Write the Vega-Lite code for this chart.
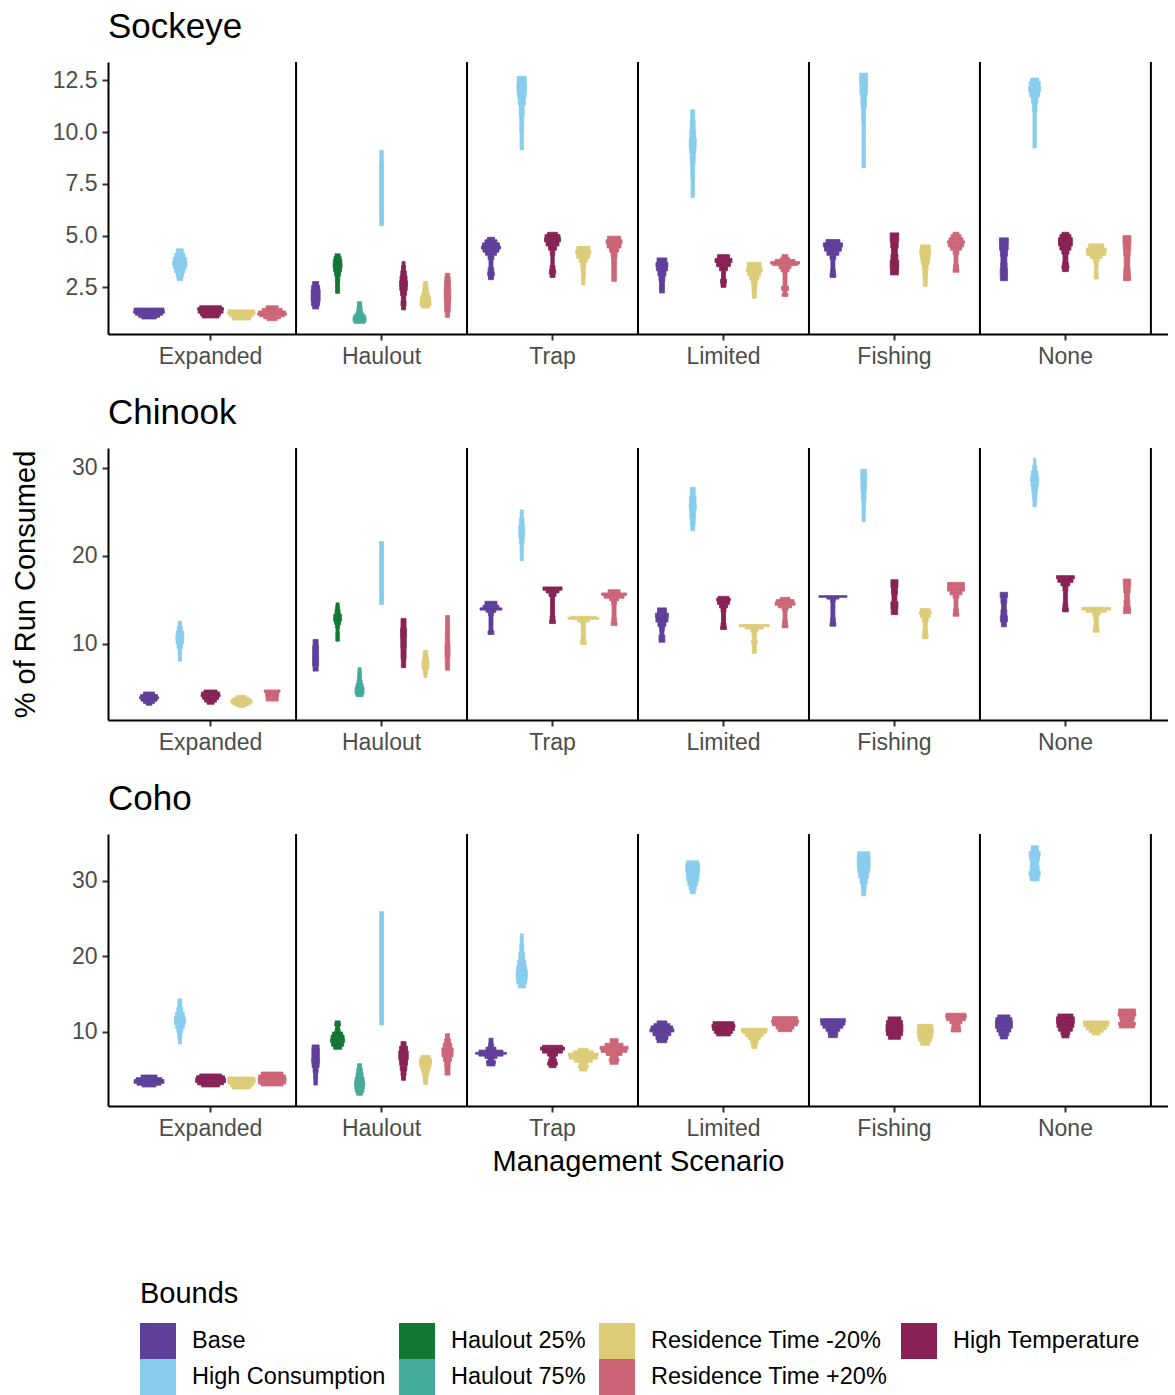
{
"$schema": "https://vega.github.io/schema/vega-lite/v6.json",
"padding": {"left": 11, "top": 10, "right": 0, "bottom": 0},
"spacing": 28,
"datasets": {
"scen": [{"sc":"Expanded"},{"sc":"Haulout"},{"sc":"Trap"},{"sc":"Limited"},{"sc":"Fishing"},{"sc":"None"}],
"vio": [
{"sp":"Sockeye","sc":"Expanded","b":"Base","e":[0.97,1.05,1.15,1.25,1.38,1.5],"w":[0.47,0.68,0.88,1.0,0.97]},
{"sp":"Sockeye","sc":"Expanded","b":"High Consumption","e":[2.82,3.0,3.2,3.4,3.55,3.75,3.95,4.15,4.36],"w":[0.18,0.24,0.33,0.42,0.47,0.43,0.33,0.22]},
{"sp":"Sockeye","sc":"Expanded","b":"High Temperature","e":[1.02,1.12,1.25,1.4,1.52,1.61],"w":[0.55,0.65,0.81,0.84,0.71]},
{"sp":"Sockeye","sc":"Expanded","b":"Residence Time -20%","e":[0.92,1.0,1.1,1.2,1.3,1.41],"w":[0.58,0.62,0.78,0.9,0.87]},
{"sp":"Sockeye","sc":"Expanded","b":"Residence Time +20%","e":[0.89,0.98,1.08,1.16,1.26,1.36,1.48,1.61],"w":[0.32,0.55,0.81,0.94,0.88,0.65,0.39]},
{"sp":"Sockeye","sc":"Haulout","b":"Base","e":[1.455,1.6,1.8,2.0,2.2,2.4,2.6,2.78],"w":[0.27,0.36,0.41,0.41,0.41,0.36,0.27]},
{"sp":"Sockeye","sc":"Haulout","b":"Haulout 25%","e":[2.21,2.5,2.8,3.05,3.25,3.45,3.65,3.85,4.0,4.12],"w":[0.18,0.18,0.2,0.27,0.36,0.41,0.39,0.32,0.23]},
{"sp":"Sockeye","sc":"Haulout","b":"Haulout 75%","e":[0.76,0.85,0.95,1.05,1.15,1.25,1.4,1.6,1.81],"w":[0.5,0.59,0.59,0.55,0.41,0.27,0.23,0.18]},
{"sp":"Sockeye","sc":"Haulout","b":"High Consumption","e":[5.49,6.5,7.5,8.5,9.11],"w":[0.18,0.18,0.18,0.16]},
{"sp":"Sockeye","sc":"Haulout","b":"High Temperature","e":[1.41,1.6,1.85,2.1,2.35,2.55,2.8,3.05,3.3,3.55,3.74],"w":[0.18,0.23,0.2,0.27,0.34,0.36,0.32,0.25,0.18,0.14]},
{"sp":"Sockeye","sc":"Haulout","b":"Residence Time -20%","e":[1.5,1.6,1.75,1.9,2.05,2.2,2.4,2.6,2.78],"w":[0.36,0.5,0.5,0.45,0.36,0.27,0.23,0.2]},
{"sp":"Sockeye","sc":"Haulout","b":"Residence Time +20%","e":[1.05,1.3,1.6,1.9,2.2,2.5,2.8,3.0,3.18],"w":[0.2,0.25,0.27,0.3,0.3,0.27,0.25,0.2]},
{"sp":"Sockeye","sc":"Trap","b":"Base","e":[2.87,3.05,3.25,3.45,3.65,3.85,4.05,4.2,4.35,4.5,4.65,4.8,4.92],"w":[0.16,0.21,0.18,0.13,0.13,0.19,0.36,0.52,0.62,0.55,0.39,0.23]},
{"sp":"Sockeye","sc":"Trap","b":"High Consumption","e":[9.15,10.0,10.8,11.3,11.7,12.0,12.3,12.69],"w":[0.11,0.13,0.16,0.23,0.29,0.32,0.3]},
{"sp":"Sockeye","sc":"Trap","b":"High Temperature","e":[2.98,3.15,3.35,3.55,3.8,4.05,4.3,4.5,4.7,4.9,5.05,5.16],"w":[0.16,0.21,0.16,0.11,0.11,0.15,0.26,0.42,0.52,0.49,0.32]},
{"sp":"Sockeye","sc":"Trap","b":"Residence Time -20%","e":[2.62,3.0,3.4,3.7,3.9,4.1,4.3,4.48],"w":[0.11,0.13,0.16,0.26,0.42,0.49,0.42]},
{"sp":"Sockeye","sc":"Trap","b":"Residence Time +20%","e":[2.79,3.2,3.6,3.95,4.2,4.4,4.6,4.8,4.97],"w":[0.15,0.15,0.16,0.19,0.29,0.45,0.52,0.42]},
{"sp":"Sockeye","sc":"Limited","b":"Base","e":[2.23,2.5,2.8,3.05,3.3,3.5,3.7,3.92],"w":[0.16,0.16,0.19,0.26,0.36,0.39,0.32]},
{"sp":"Sockeye","sc":"Limited","b":"High Consumption","e":[6.85,7.8,8.5,9.0,9.3,9.7,10.1,10.6,11.08],"w":[0.11,0.13,0.16,0.21,0.23,0.19,0.16,0.13]},
{"sp":"Sockeye","sc":"Limited","b":"High Temperature","e":[2.5,2.7,2.9,3.1,3.3,3.5,3.7,3.9,4.08],"w":[0.16,0.19,0.13,0.13,0.26,0.45,0.55,0.39]},
{"sp":"Sockeye","sc":"Limited","b":"Residence Time -20%","e":[1.97,2.3,2.6,2.85,3.05,3.25,3.45,3.71],"w":[0.13,0.15,0.19,0.29,0.42,0.52,0.45]},
{"sp":"Sockeye","sc":"Limited","b":"Residence Time +20%","e":[2.06,2.2,2.35,2.55,2.75,3.0,3.25,3.4,3.55,3.62,3.75,3.85,3.95,4.08],"w":[0.19,0.13,0.23,0.13,0.13,0.13,0.26,0.39,0.81,0.94,0.65,0.29,0.19]},
{"sp":"Sockeye","sc":"Fishing","b":"Base","e":[2.98,3.15,3.35,3.6,3.85,4.05,4.25,4.45,4.65,4.81],"w":[0.19,0.16,0.13,0.13,0.19,0.39,0.55,0.62,0.45]},
{"sp":"Sockeye","sc":"Fishing","b":"High Consumption","e":[8.28,9.5,10.5,11.2,11.8,12.3,12.85],"w":[0.11,0.11,0.13,0.18,0.24,0.26]},
{"sp":"Sockeye","sc":"Fishing","b":"High Temperature","e":[3.1,3.4,3.8,4.1,4.4,4.7,5.13],"w":[0.26,0.28,0.23,0.19,0.24,0.28]},
{"sp":"Sockeye","sc":"Fishing","b":"Residence Time -20%","e":[2.55,3.0,3.35,3.6,3.85,4.1,4.35,4.55],"w":[0.13,0.15,0.19,0.26,0.32,0.36,0.32]},
{"sp":"Sockeye","sc":"Fishing","b":"Residence Time +20%","e":[3.23,3.4,3.6,3.85,4.1,4.3,4.45,4.6,4.75,4.9,5.05,5.16],"w":[0.19,0.16,0.13,0.13,0.19,0.36,0.49,0.55,0.45,0.32,0.19]},
{"sp":"Sockeye","sc":"None","b":"Base","e":[2.82,3.1,3.4,3.7,4.0,4.3,4.6,4.89],"w":[0.23,0.24,0.21,0.19,0.23,0.28,0.29]},
{"sp":"Sockeye","sc":"None","b":"High Consumption","e":[9.24,10.2,11.0,11.4,11.7,11.95,12.2,12.45,12.61],"w":[0.11,0.11,0.15,0.21,0.32,0.39,0.36,0.26]},
{"sp":"Sockeye","sc":"None","b":"High Temperature","e":[3.26,3.4,3.55,3.7,3.9,4.1,4.3,4.5,4.7,4.9,5.05,5.16],"w":[0.19,0.23,0.19,0.16,0.16,0.23,0.36,0.45,0.45,0.36,0.23]},
{"sp":"Sockeye","sc":"None","b":"Residence Time -20%","e":[2.9,3.2,3.5,3.75,3.9,4.05,4.2,4.4,4.6],"w":[0.13,0.11,0.13,0.19,0.39,0.62,0.65,0.49]},
{"sp":"Sockeye","sc":"None","b":"Residence Time +20%","e":[2.82,3.1,3.4,3.7,4.0,4.3,4.6,5.0],"w":[0.23,0.21,0.18,0.18,0.21,0.24,0.26]},
{"sp":"Chinook","sc":"Expanded","b":"Base","e":[3.04,3.25,3.5,3.75,4.0,4.25,4.54],"w":[0.19,0.36,0.52,0.62,0.55,0.36]},
{"sp":"Chinook","sc":"Expanded","b":"High Consumption","e":[8.05,8.8,9.5,10.0,10.5,11.0,11.5,12.0,12.58],"w":[0.1,0.11,0.18,0.24,0.26,0.23,0.16,0.11]},
{"sp":"Chinook","sc":"Expanded","b":"High Temperature","e":[3.15,3.4,3.7,4.0,4.3,4.55,4.77],"w":[0.23,0.39,0.52,0.62,0.58,0.42]},
{"sp":"Chinook","sc":"Expanded","b":"Residence Time -20%","e":[2.77,2.95,3.15,3.35,3.55,3.75,3.95,4.17],"w":[0.23,0.45,0.62,0.71,0.65,0.49,0.29]},
{"sp":"Chinook","sc":"Expanded","b":"Residence Time +20%","e":[3.52,3.7,3.95,4.2,4.45,4.6,4.77],"w":[0.39,0.39,0.41,0.42,0.49,0.52]},
{"sp":"Chinook","sc":"Haulout","b":"Base","e":[6.92,7.5,8.3,9.1,9.8,10.51],"w":[0.23,0.27,0.27,0.27,0.23]},
{"sp":"Chinook","sc":"Haulout","b":"Haulout 25%","e":[10.32,10.8,11.3,11.8,12.2,12.6,13.0,13.4,13.9,14.3,14.67],"w":[0.16,0.16,0.14,0.18,0.27,0.36,0.34,0.23,0.18,0.14]},
{"sp":"Chinook","sc":"Haulout","b":"Haulout 75%","e":[4.02,4.3,4.7,5.1,5.5,5.9,6.4,6.9,7.3],"w":[0.32,0.41,0.41,0.32,0.23,0.18,0.16,0.14]},
{"sp":"Chinook","sc":"Haulout","b":"High Consumption","e":[14.47,16.5,18.5,20.5,21.64],"w":[0.18,0.18,0.18,0.18]},
{"sp":"Chinook","sc":"Haulout","b":"High Temperature","e":[7.3,8.3,9.5,10.7,11.8,12.89],"w":[0.2,0.23,0.25,0.27,0.23]},
{"sp":"Chinook","sc":"Haulout","b":"Residence Time -20%","e":[6.17,6.6,7.1,7.6,8.1,8.6,9.26],"w":[0.14,0.2,0.3,0.32,0.25,0.2]},
{"sp":"Chinook","sc":"Haulout","b":"Residence Time +20%","e":[7.03,8.5,10.0,11.5,13.23],"w":[0.2,0.23,0.2,0.18]},
{"sp":"Chinook","sc":"Trap","b":"Base","e":[11.08,11.5,12.0,12.6,13.2,13.6,13.85,14.1,14.4,14.85],"w":[0.19,0.13,0.13,0.13,0.16,0.32,0.71,0.52,0.39]},
{"sp":"Chinook","sc":"Trap","b":"High Consumption","e":[19.46,20.5,21.4,22.1,22.8,23.5,24.3,25.23],"w":[0.1,0.11,0.15,0.19,0.19,0.15,0.1]},
{"sp":"Chinook","sc":"Trap","b":"High Temperature","e":[12.32,12.7,13.2,14.0,14.8,15.4,15.8,16.1,16.48],"w":[0.19,0.16,0.13,0.13,0.13,0.23,0.42,0.62]},
{"sp":"Chinook","sc":"Trap","b":"Residence Time -20%","e":[9.94,10.3,11.0,11.7,12.2,12.5,12.8,13.0,13.15],"w":[0.19,0.15,0.13,0.13,0.16,0.39,1.0,0.84]},
{"sp":"Chinook","sc":"Trap","b":"Residence Time +20%","e":[12.1,12.5,13.0,13.8,14.5,14.9,15.2,15.5,15.8,16.17],"w":[0.19,0.15,0.13,0.13,0.16,0.29,0.65,0.81,0.39]},
{"sp":"Chinook","sc":"Limited","b":"Base","e":[10.2,10.6,11.0,11.5,12.0,12.5,13.0,13.5,14.1],"w":[0.19,0.19,0.13,0.16,0.26,0.39,0.42,0.29]},
{"sp":"Chinook","sc":"Limited","b":"High Consumption","e":[22.89,23.5,24.3,25.2,26.0,26.8,27.8],"w":[0.13,0.16,0.19,0.23,0.21,0.16]},
{"sp":"Chinook","sc":"Limited","b":"High Temperature","e":[11.64,12.0,12.4,13.0,13.6,14.1,14.5,14.9,15.2,15.41],"w":[0.19,0.16,0.13,0.13,0.16,0.26,0.39,0.45,0.36]},
{"sp":"Chinook","sc":"Limited","b":"Residence Time -20%","e":[8.93,9.5,10.0,10.4,10.9,11.4,11.7,11.95,12.21],"w":[0.13,0.13,0.19,0.13,0.15,0.23,0.58,0.97]},
{"sp":"Chinook","sc":"Limited","b":"Residence Time +20%","e":[11.83,12.2,12.7,13.3,13.8,14.1,14.4,14.75,15.05,15.3],"w":[0.19,0.16,0.13,0.13,0.19,0.42,0.65,0.58,0.32]},
{"sp":"Chinook","sc":"Fishing","b":"Base","e":[12.02,12.4,12.9,13.5,14.2,14.8,15.1,15.3,15.49],"w":[0.19,0.16,0.13,0.13,0.13,0.16,0.39,0.91]},
{"sp":"Chinook","sc":"Fishing","b":"High Consumption","e":[23.91,25.0,26.2,27.4,28.6,29.84],"w":[0.1,0.11,0.15,0.18,0.19]},
{"sp":"Chinook","sc":"Fishing","b":"High Temperature","e":[13.34,14.0,14.8,15.6,16.4,17.3],"w":[0.21,0.23,0.16,0.19,0.23]},
{"sp":"Chinook","sc":"Fishing","b":"Residence Time -20%","e":[10.62,11.0,11.5,12.0,12.5,13.0,13.4,13.7,14.02],"w":[0.19,0.16,0.13,0.13,0.19,0.32,0.39,0.32]},
{"sp":"Chinook","sc":"Fishing","b":"Residence Time +20%","e":[13.15,13.5,14.0,14.6,15.2,15.6,16.0,16.5,17.0],"w":[0.19,0.16,0.13,0.13,0.19,0.39,0.55,0.55]},
{"sp":"Chinook","sc":"None","b":"Base","e":[11.95,12.5,13.2,13.9,14.6,15.3,15.87],"w":[0.16,0.23,0.19,0.15,0.19,0.24]},
{"sp":"Chinook","sc":"None","b":"High Consumption","e":[25.6,26.4,27.2,27.9,28.5,29.1,29.7,30.3,31.09],"w":[0.11,0.15,0.19,0.24,0.26,0.21,0.13,0.08]},
{"sp":"Chinook","sc":"None","b":"High Temperature","e":[13.65,14.1,14.6,15.3,16.0,16.6,17.0,17.4,17.76],"w":[0.19,0.16,0.13,0.13,0.16,0.29,0.49,0.58]},
{"sp":"Chinook","sc":"None","b":"Residence Time -20%","e":[11.34,11.8,12.3,12.9,13.3,13.6,13.85,14.17],"w":[0.19,0.15,0.13,0.16,0.26,0.65,0.94]},
{"sp":"Chinook","sc":"None","b":"Residence Time +20%","e":[13.45,14.2,15.0,15.8,16.6,17.38],"w":[0.23,0.19,0.16,0.21,0.24]},
{"sp":"Coho","sc":"Expanded","b":"Base","e":[2.72,2.95,3.2,3.45,3.7,3.95,4.3],"w":[0.45,0.78,0.97,0.97,0.84,0.52]},
{"sp":"Coho","sc":"Expanded","b":"High Consumption","e":[8.41,9.2,9.9,10.5,11.0,11.5,12.0,12.6,13.3,14.37],"w":[0.1,0.13,0.19,0.29,0.36,0.36,0.29,0.19,0.13]},
{"sp":"Coho","sc":"Expanded","b":"High Temperature","e":[2.72,3.0,3.3,3.6,3.9,4.2,4.44],"w":[0.58,0.84,0.97,0.97,0.91,0.71]},
{"sp":"Coho","sc":"Expanded","b":"Residence Time -20%","e":[2.45,2.75,3.05,3.35,3.7,4.04],"w":[0.58,0.71,0.84,0.91,0.88]},
{"sp":"Coho","sc":"Expanded","b":"Residence Time +20%","e":[2.85,3.1,3.5,3.9,4.3,4.7],"w":[0.71,0.88,0.91,0.88,0.71]},
{"sp":"Coho","sc":"Haulout","b":"Base","e":[2.98,3.8,4.6,5.3,5.9,6.5,7.2,7.8,8.28],"w":[0.16,0.18,0.23,0.32,0.36,0.34,0.34,0.32]},
{"sp":"Coho","sc":"Haulout","b":"Haulout 25%","e":[7.71,8.1,8.6,9.1,9.6,10.0,10.4,10.8,11.1,11.46],"w":[0.36,0.55,0.64,0.59,0.45,0.23,0.18,0.27,0.23]},
{"sp":"Coho","sc":"Haulout","b":"Haulout 75%","e":[1.62,2.0,2.5,3.0,3.5,4.0,4.6,5.2,5.8],"w":[0.27,0.39,0.43,0.45,0.41,0.32,0.25,0.18]},
{"sp":"Coho","sc":"Haulout","b":"High Consumption","e":[10.93,14.0,18.0,22.0,25.93],"w":[0.18,0.18,0.18,0.18]},
{"sp":"Coho","sc":"Haulout","b":"High Temperature","e":[3.6,4.2,4.9,5.6,6.3,6.9,7.5,8.1,8.72],"w":[0.18,0.23,0.3,0.36,0.43,0.43,0.36,0.23]},
{"sp":"Coho","sc":"Haulout","b":"Residence Time -20%","e":[3.07,3.6,4.1,4.6,5.1,5.6,6.1,6.5,6.91],"w":[0.18,0.2,0.27,0.36,0.45,0.55,0.55,0.41]},
{"sp":"Coho","sc":"Haulout","b":"Residence Time +20%","e":[4.3,4.9,5.5,6.1,6.7,7.3,7.9,8.5,9.1,9.77],"w":[0.23,0.23,0.25,0.36,0.5,0.52,0.39,0.27,0.18]},
{"sp":"Coho","sc":"Trap","b":"Base","e":[5.5,5.85,6.2,6.5,6.8,7.05,7.3,7.6,8.0,8.5,9.17],"w":[0.26,0.29,0.19,0.39,0.78,1.0,0.78,0.32,0.16,0.13]},
{"sp":"Coho","sc":"Trap","b":"High Consumption","e":[15.83,16.4,17.0,17.6,18.2,18.8,19.5,20.5,21.6,22.98],"w":[0.23,0.32,0.36,0.36,0.32,0.26,0.19,0.13,0.1]},
{"sp":"Coho","sc":"Trap","b":"High Temperature","e":[5.27,5.6,6.0,6.4,6.8,7.2,7.6,8.0,8.24],"w":[0.23,0.32,0.26,0.19,0.32,0.65,0.78,0.65]},
{"sp":"Coho","sc":"Trap","b":"Residence Time -20%","e":[4.83,5.2,5.6,6.0,6.4,6.8,7.2,7.5,7.84],"w":[0.23,0.32,0.26,0.58,0.91,0.97,0.65,0.32]},
{"sp":"Coho","sc":"Trap","b":"Residence Time +20%","e":[5.72,6.1,6.5,6.9,7.3,7.7,8.1,8.5,9.11],"w":[0.26,0.32,0.26,0.52,0.84,0.91,0.58,0.26]},
{"sp":"Coho","sc":"Limited","b":"Base","e":[8.58,9.0,9.5,10.0,10.4,10.8,11.1,11.46],"w":[0.32,0.39,0.58,0.78,0.71,0.52,0.32]},
{"sp":"Coho","sc":"Limited","b":"High Consumption","e":[28.28,28.8,29.4,30.0,30.6,31.2,31.8,32.3,32.65],"w":[0.16,0.23,0.32,0.39,0.42,0.45,0.45,0.39]},
{"sp":"Coho","sc":"Limited","b":"High Temperature","e":[9.47,9.8,10.2,10.6,11.0,11.36],"w":[0.45,0.58,0.71,0.75,0.68]},
{"sp":"Coho","sc":"Limited","b":"Residence Time -20%","e":[7.79,8.2,8.6,9.0,9.4,9.8,10.1,10.49],"w":[0.16,0.19,0.26,0.39,0.58,0.78,0.84]},
{"sp":"Coho","sc":"Limited","b":"Residence Time +20%","e":[10.04,10.4,10.8,11.2,11.6,12.03],"w":[0.45,0.58,0.81,0.88,0.81]},
{"sp":"Coho","sc":"Fishing","b":"Base","e":[9.25,9.7,10.1,10.5,10.9,11.3,11.76],"w":[0.29,0.32,0.45,0.65,0.78,0.81]},
{"sp":"Coho","sc":"Fishing","b":"High Consumption","e":[28.01,28.8,29.6,30.4,31.1,31.8,32.5,33.2,33.84],"w":[0.13,0.16,0.23,0.32,0.39,0.42,0.42,0.39]},
{"sp":"Coho","sc":"Fishing","b":"High Temperature","e":[9.03,9.5,10.0,10.5,11.0,11.5,11.99],"w":[0.39,0.52,0.55,0.55,0.52,0.42]},
{"sp":"Coho","sc":"Fishing","b":"Residence Time -20%","e":[8.24,8.7,9.2,9.7,10.2,10.6,11.02],"w":[0.29,0.42,0.49,0.52,0.52,0.49]},
{"sp":"Coho","sc":"Fishing","b":"Residence Time +20%","e":[10.0,10.3,10.7,11.1,11.5,11.9,12.2,12.48],"w":[0.32,0.29,0.26,0.39,0.62,0.68,0.65]},
{"sp":"Coho","sc":"None","b":"Base","e":[9.07,9.5,10.0,10.5,11.0,11.5,11.9,12.25],"w":[0.23,0.32,0.45,0.55,0.55,0.52,0.39]},
{"sp":"Coho","sc":"None","b":"High Consumption","e":[30.0,30.6,31.3,32.0,32.7,33.3,33.9,34.64],"w":[0.29,0.36,0.29,0.26,0.32,0.36,0.23]},
{"sp":"Coho","sc":"None","b":"High Temperature","e":[9.21,9.6,10.1,10.6,11.1,11.6,12.0,12.38],"w":[0.23,0.29,0.45,0.55,0.58,0.58,0.49]},
{"sp":"Coho","sc":"None","b":"Residence Time -20%","e":[9.6,9.95,10.3,10.7,11.1,11.46],"w":[0.26,0.45,0.65,0.81,0.84]},
{"sp":"Coho","sc":"None","b":"Residence Time +20%","e":[10.53,10.9,11.3,11.7,12.1,12.5,13.05],"w":[0.49,0.55,0.42,0.49,0.58,0.55]}
]
},
"vconcat": [
{
"title": {"text": "Sockeye"},
"width": 1060, "height": 272,
"layer": [
{"data": {"name": "scen"}, "mark": {"type": "rule", "color": "black", "strokeWidth": 2},
 "encoding": {"x": {"field": "sc", "type": "nominal", "bandPosition": 1, "title": null, "scale": {"type": "band", "domain": ["Expanded","Haulout","Trap","Limited","Fishing","None"], "paddingInner": 0, "paddingOuter": 0.1}, "axis": {"labelAngle": 0}}}},
{"data": {"name": "vio"},
 "transform": [{"filter": "datum.sp == 'Sockeye' && datum.sc != 'Haulout'"}, {"flatten": ["e", "w"]}, {"window": [{"op": "lead", "field": "e", "as": "e2"}], "groupby": ["sp", "sc", "b"], "sort": [{"field": "e", "order": "ascending"}]}, {"filter": "datum.w != null"}],
 "mark": {"type": "bar", "orient": "vertical", "strokeWidth": 0.8},
 "encoding": {
  "x": {"field": "sc", "type": "nominal", "title": null, "scale": {"type": "band", "domain": ["Expanded","Haulout","Trap","Limited","Fishing","None"], "paddingInner": 0, "paddingOuter": 0.1}},
  "xOffset": {"field": "b", "type": "nominal", "scale": {"domain": ["Base","High Consumption","High Temperature","Residence Time -20%","Residence Time +20%"], "paddingInner": 0, "paddingOuter": 0.278}},
  "y": {"field": "e", "type": "quantitative", "title": null, "scale": {"domain": [0.245, 13.39], "nice": false, "zero": false}, "axis": {"values": [2.5, 5, 7.5, 10, 12.5], "format": ".1f"}},
  "y2": {"field": "e2"},
  "size": {"field": "w", "type": "quantitative", "scale": {"domain": [0, 1], "range": [0, 30.8]}, "legend": null},
  "color": {"field": "b", "type": "nominal", "title": "Bounds", "scale": {"domain": ["Base","Haulout 25%","Residence Time -20%","High Temperature","High Consumption","Haulout 75%","Residence Time +20%"], "range": ["#5E3F99","#117733","#DDCC77","#882255","#88CCEE","#44AA99","#CC6677"]}},
  "stroke": {"field": "b", "type": "nominal", "title": "Bounds", "scale": {"domain": ["Base","Haulout 25%","Residence Time -20%","High Temperature","High Consumption","Haulout 75%","Residence Time +20%"], "range": ["#5E3F99","#117733","#DDCC77","#882255","#88CCEE","#44AA99","#CC6677"]}}
 }},
{"data": {"name": "vio"},
 "transform": [{"filter": "datum.sp == 'Sockeye' && datum.sc == 'Haulout'"}, {"flatten": ["e", "w"]}, {"window": [{"op": "lead", "field": "e", "as": "e2"}], "groupby": ["sp", "sc", "b"], "sort": [{"field": "e", "order": "ascending"}]}, {"filter": "datum.w != null"}],
 "mark": {"type": "bar", "orient": "vertical", "strokeWidth": 0.8},
 "encoding": {
  "x": {"field": "sc", "type": "nominal", "title": null, "scale": {"type": "band", "domain": ["Expanded","Haulout","Trap","Limited","Fishing","None"], "paddingInner": 0, "paddingOuter": 0.1}},
  "xOffset": {"field": "b", "type": "nominal", "scale": {"domain": ["Base","Haulout 25%","Haulout 75%","High Consumption","High Temperature","Residence Time -20%","Residence Time +20%"], "paddingInner": 0, "paddingOuter": 0.389}},
  "y": {"field": "e", "type": "quantitative", "title": null, "scale": {"domain": [0.245, 13.39], "nice": false, "zero": false}, "axis": {"values": [2.5, 5, 7.5, 10, 12.5], "format": ".1f"}},
  "y2": {"field": "e2"},
  "size": {"field": "w", "type": "quantitative", "scale": {"domain": [0, 1], "range": [0, 22]}, "legend": null},
  "color": {"field": "b", "type": "nominal", "title": "Bounds", "scale": {"domain": ["Base","Haulout 25%","Residence Time -20%","High Temperature","High Consumption","Haulout 75%","Residence Time +20%"], "range": ["#5E3F99","#117733","#DDCC77","#882255","#88CCEE","#44AA99","#CC6677"]}},
  "stroke": {"field": "b", "type": "nominal", "title": "Bounds", "scale": {"domain": ["Base","Haulout 25%","Residence Time -20%","High Temperature","High Consumption","Haulout 75%","Residence Time +20%"], "range": ["#5E3F99","#117733","#DDCC77","#882255","#88CCEE","#44AA99","#CC6677"]}}
 }}
],
"resolve": {"scale": {"xOffset": "independent", "size": "independent"}}
},
{
"title": {"text": "Chinook"},
"width": 1060, "height": 272,
"layer": [
{"data": {"name": "scen"}, "mark": {"type": "rule", "color": "black", "strokeWidth": 2},
 "encoding": {"x": {"field": "sc", "type": "nominal", "bandPosition": 1, "title": null, "scale": {"type": "band", "domain": ["Expanded","Haulout","Trap","Limited","Fishing","None"], "paddingInner": 0, "paddingOuter": 0.1}, "axis": {"labelAngle": 0}}}},
{"data": {"name": "vio"},
 "transform": [{"filter": "datum.sp == 'Chinook' && datum.sc != 'Haulout'"}, {"flatten": ["e", "w"]}, {"window": [{"op": "lead", "field": "e", "as": "e2"}], "groupby": ["sp", "sc", "b"], "sort": [{"field": "e", "order": "ascending"}]}, {"filter": "datum.w != null"}],
 "mark": {"type": "bar", "orient": "vertical", "strokeWidth": 0.8},
 "encoding": {
  "x": {"field": "sc", "type": "nominal", "title": null, "scale": {"type": "band", "domain": ["Expanded","Haulout","Trap","Limited","Fishing","None"], "paddingInner": 0, "paddingOuter": 0.1}},
  "xOffset": {"field": "b", "type": "nominal", "scale": {"domain": ["Base","High Consumption","High Temperature","Residence Time -20%","Residence Time +20%"], "paddingInner": 0, "paddingOuter": 0.278}},
  "y": {"field": "e", "type": "quantitative", "title": "% of Run Consumed", "scale": {"domain": [1.36, 32.27], "nice": false, "zero": false}, "axis": {"values": [10, 20, 30], "titlePadding": 31}},
  "y2": {"field": "e2"},
  "size": {"field": "w", "type": "quantitative", "scale": {"domain": [0, 1], "range": [0, 30.8]}, "legend": null},
  "color": {"field": "b", "type": "nominal", "title": "Bounds", "scale": {"domain": ["Base","Haulout 25%","Residence Time -20%","High Temperature","High Consumption","Haulout 75%","Residence Time +20%"], "range": ["#5E3F99","#117733","#DDCC77","#882255","#88CCEE","#44AA99","#CC6677"]}},
  "stroke": {"field": "b", "type": "nominal", "title": "Bounds", "scale": {"domain": ["Base","Haulout 25%","Residence Time -20%","High Temperature","High Consumption","Haulout 75%","Residence Time +20%"], "range": ["#5E3F99","#117733","#DDCC77","#882255","#88CCEE","#44AA99","#CC6677"]}}
 }},
{"data": {"name": "vio"},
 "transform": [{"filter": "datum.sp == 'Chinook' && datum.sc == 'Haulout'"}, {"flatten": ["e", "w"]}, {"window": [{"op": "lead", "field": "e", "as": "e2"}], "groupby": ["sp", "sc", "b"], "sort": [{"field": "e", "order": "ascending"}]}, {"filter": "datum.w != null"}],
 "mark": {"type": "bar", "orient": "vertical", "strokeWidth": 0.8},
 "encoding": {
  "x": {"field": "sc", "type": "nominal", "title": null, "scale": {"type": "band", "domain": ["Expanded","Haulout","Trap","Limited","Fishing","None"], "paddingInner": 0, "paddingOuter": 0.1}},
  "xOffset": {"field": "b", "type": "nominal", "scale": {"domain": ["Base","Haulout 25%","Haulout 75%","High Consumption","High Temperature","Residence Time -20%","Residence Time +20%"], "paddingInner": 0, "paddingOuter": 0.389}},
  "y": {"field": "e", "type": "quantitative", "title": "% of Run Consumed", "scale": {"domain": [1.36, 32.27], "nice": false, "zero": false}, "axis": {"values": [10, 20, 30], "titlePadding": 31}},
  "y2": {"field": "e2"},
  "size": {"field": "w", "type": "quantitative", "scale": {"domain": [0, 1], "range": [0, 22]}, "legend": null},
  "color": {"field": "b", "type": "nominal", "title": "Bounds", "scale": {"domain": ["Base","Haulout 25%","Residence Time -20%","High Temperature","High Consumption","Haulout 75%","Residence Time +20%"], "range": ["#5E3F99","#117733","#DDCC77","#882255","#88CCEE","#44AA99","#CC6677"]}},
  "stroke": {"field": "b", "type": "nominal", "title": "Bounds", "scale": {"domain": ["Base","Haulout 25%","Residence Time -20%","High Temperature","High Consumption","Haulout 75%","Residence Time +20%"], "range": ["#5E3F99","#117733","#DDCC77","#882255","#88CCEE","#44AA99","#CC6677"]}}
 }}
],
"resolve": {"scale": {"xOffset": "independent", "size": "independent"}}
},
{
"title": {"text": "Coho"},
"width": 1060, "height": 272,
"layer": [
{"data": {"name": "scen"}, "mark": {"type": "rule", "color": "black", "strokeWidth": 2},
 "encoding": {"x": {"field": "sc", "type": "nominal", "bandPosition": 1, "title": "Management Scenario", "scale": {"type": "band", "domain": ["Expanded","Haulout","Trap","Limited","Fishing","None"], "paddingInner": 0, "paddingOuter": 0.1}, "axis": {"labelAngle": 0, "titlePadding": 7}}}},
{"data": {"name": "vio"},
 "transform": [{"filter": "datum.sp == 'Coho' && datum.sc != 'Haulout'"}, {"flatten": ["e", "w"]}, {"window": [{"op": "lead", "field": "e", "as": "e2"}], "groupby": ["sp", "sc", "b"], "sort": [{"field": "e", "order": "ascending"}]}, {"filter": "datum.w != null"}],
 "mark": {"type": "bar", "orient": "vertical", "strokeWidth": 0.8},
 "encoding": {
  "x": {"field": "sc", "type": "nominal", "title": "Management Scenario", "scale": {"type": "band", "domain": ["Expanded","Haulout","Trap","Limited","Fishing","None"], "paddingInner": 0, "paddingOuter": 0.1}},
  "xOffset": {"field": "b", "type": "nominal", "scale": {"domain": ["Base","High Consumption","High Temperature","Residence Time -20%","Residence Time +20%"], "paddingInner": 0, "paddingOuter": 0.278}},
  "y": {"field": "e", "type": "quantitative", "title": null, "scale": {"domain": [0.2, 36.2], "nice": false, "zero": false}, "axis": {"values": [10, 20, 30]}},
  "y2": {"field": "e2"},
  "size": {"field": "w", "type": "quantitative", "scale": {"domain": [0, 1], "range": [0, 30.8]}, "legend": null},
  "color": {"field": "b", "type": "nominal", "title": "Bounds", "scale": {"domain": ["Base","Haulout 25%","Residence Time -20%","High Temperature","High Consumption","Haulout 75%","Residence Time +20%"], "range": ["#5E3F99","#117733","#DDCC77","#882255","#88CCEE","#44AA99","#CC6677"]}},
  "stroke": {"field": "b", "type": "nominal", "title": "Bounds", "scale": {"domain": ["Base","Haulout 25%","Residence Time -20%","High Temperature","High Consumption","Haulout 75%","Residence Time +20%"], "range": ["#5E3F99","#117733","#DDCC77","#882255","#88CCEE","#44AA99","#CC6677"]}}
 }},
{"data": {"name": "vio"},
 "transform": [{"filter": "datum.sp == 'Coho' && datum.sc == 'Haulout'"}, {"flatten": ["e", "w"]}, {"window": [{"op": "lead", "field": "e", "as": "e2"}], "groupby": ["sp", "sc", "b"], "sort": [{"field": "e", "order": "ascending"}]}, {"filter": "datum.w != null"}],
 "mark": {"type": "bar", "orient": "vertical", "strokeWidth": 0.8},
 "encoding": {
  "x": {"field": "sc", "type": "nominal", "title": "Management Scenario", "scale": {"type": "band", "domain": ["Expanded","Haulout","Trap","Limited","Fishing","None"], "paddingInner": 0, "paddingOuter": 0.1}},
  "xOffset": {"field": "b", "type": "nominal", "scale": {"domain": ["Base","Haulout 25%","Haulout 75%","High Consumption","High Temperature","Residence Time -20%","Residence Time +20%"], "paddingInner": 0, "paddingOuter": 0.389}},
  "y": {"field": "e", "type": "quantitative", "title": null, "scale": {"domain": [0.2, 36.2], "nice": false, "zero": false}, "axis": {"values": [10, 20, 30]}},
  "y2": {"field": "e2"},
  "size": {"field": "w", "type": "quantitative", "scale": {"domain": [0, 1], "range": [0, 22]}, "legend": null},
  "color": {"field": "b", "type": "nominal", "title": "Bounds", "scale": {"domain": ["Base","Haulout 25%","Residence Time -20%","High Temperature","High Consumption","Haulout 75%","Residence Time +20%"], "range": ["#5E3F99","#117733","#DDCC77","#882255","#88CCEE","#44AA99","#CC6677"]}},
  "stroke": {"field": "b", "type": "nominal", "title": "Bounds", "scale": {"domain": ["Base","Haulout 25%","Residence Time -20%","High Temperature","High Consumption","Haulout 75%","Residence Time +20%"], "range": ["#5E3F99","#117733","#DDCC77","#882255","#88CCEE","#44AA99","#CC6677"]}}
 }}
],
"resolve": {"scale": {"xOffset": "independent", "size": "independent"}}
}
],
"resolve": {"scale": {"xOffset": "independent", "size": "independent"}},
"config": {
 "font": "Liberation Sans",
 "view": {"stroke": null},
 "axis": {"grid": false, "domainColor": "black", "domainWidth": 2, "tickColor": "#333333", "tickWidth": 2, "tickSize": 6, "labelFontSize": 23, "labelColor": "#4D4D4D", "labelPadding": 5, "titleFontSize": 29, "titleFontWeight": "normal", "titleColor": "black", "labelFont": "Liberation Sans", "titleFont": "Liberation Sans"},
 "title": {"anchor": "start", "frame": "group", "fontSize": 35, "fontWeight": "normal", "color": "black", "font": "Liberation Sans", "offset": 16},
 "legend": {"orient": "none", "legendX": 32, "legendY": 1218, "direction": "horizontal", "columns": 4, "symbolType": "square", "symbolSize": 1296, "symbolStrokeWidth": 0, "symbolOpacity": 1, "labelFontSize": 23.5, "labelFont": "Liberation Sans", "labelColor": "black", "labelLimit": 400, "titleFontSize": 29, "titleFont": "Liberation Sans", "titleFontWeight": "normal", "titleColor": "black", "columnPadding": 13, "rowPadding": 0, "labelOffset": 16, "titlePadding": 14}
}
}
